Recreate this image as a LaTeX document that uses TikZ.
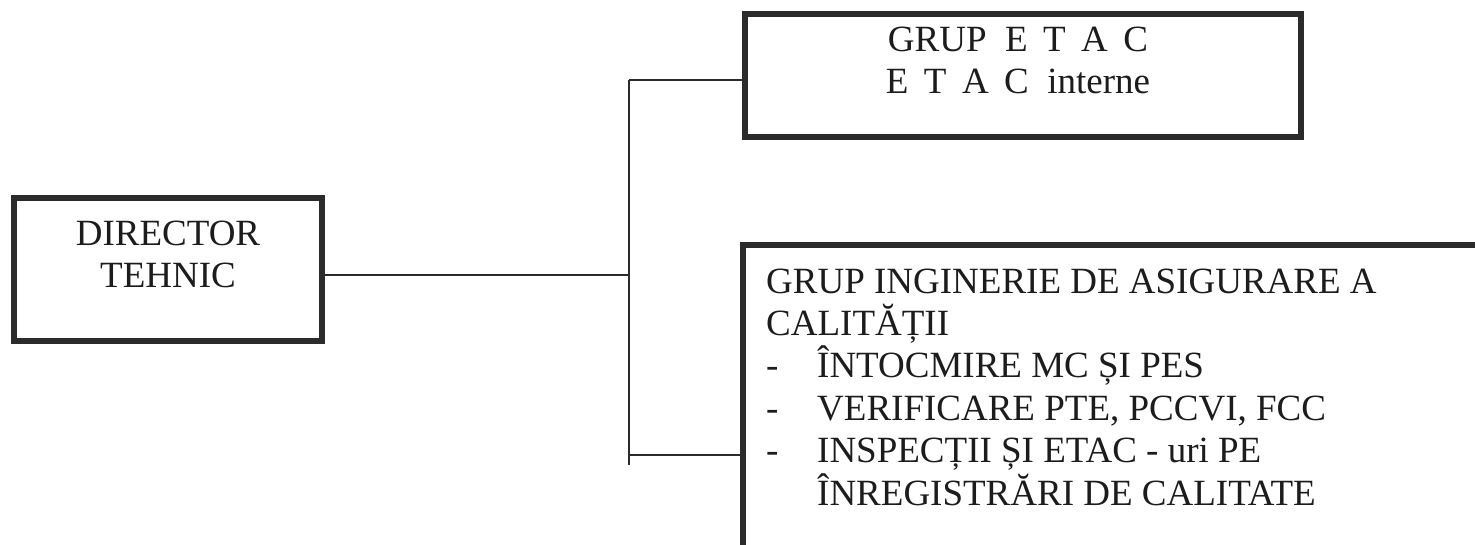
\documentclass[tikz,border=0pt]{standalone}
\usepackage{fontspec}
\setmainfont{Liberation Serif}
\definecolor{ink}{HTML}{2B2B2B}
\definecolor{txtc}{HTML}{1C1C1C}
\begin{document}
\begin{tikzpicture}[x=1pt,y=-1pt,
  box/.style={draw=ink,line width=6pt,inner sep=0pt},
  wire/.style={draw=ink,line width=2.2pt},
  txt/.style={text=txtc,inner sep=0pt,font=\fontsize{37}{42.4}\selectfont}]
\useasboundingbox (0,0) rectangle (1475,545);
\clip (0,0) rectangle (1475,545);
\fill[white] (0,0) rectangle (1475,545);
% boxes
\node[box,minimum width=308pt,minimum height=143pt] (dir) at (168,269.5) {};
\node[box,minimum width=556pt,minimum height=123pt] (top) at (1023,75.5) {};
\node[box,minimum width=800pt,minimum height=400pt] (qa) at (1143,445) {};
% texts (base anchor = baseline of the last line)
\node[txt,align=center,anchor=base,font=\fontsize{37}{43}\selectfont] (dirt) at (168,288) {DIRECTOR\\TEHNIC};
\node[txt,align=center,anchor=base,font=\fontsize{37}{42}\selectfont] (topt) at (1018,94) {GRUP\ \ E\,\ T\,\ A\,\ C\\E\,\ T\,\ A\,\ C\ \ interne};
\node[txt,align=left,anchor=base west] (qat) at (766,505) {GRUP INGINERIE DE ASIGURARE A\\
CALITĂȚII\\
\makebox[51pt][l]{-}ÎNTOCMIRE MC ȘI PES\\
\makebox[51pt][l]{-}VERIFICARE PTE, PCCVI, FCC\\
\makebox[51pt][l]{-}INSPECȚII ȘI ETAC - uri PE\\
\hspace*{51pt}ÎNREGISTRĂRI DE CALITATE};
% connectors
\coordinate (bt) at (629,80);
\coordinate (bb) at (629,465);
\coordinate (bj) at (629,455);
\coordinate (d) at ([yshift=-5.5pt]dir.east);
\draw[wire] (bt) -- (bb);
\draw[wire] (d) -- (d -| bt);
\draw[wire] (bt) -- (bt -| top.west);
\draw[wire] (bj) -- (bj -| qa.west);
\end{tikzpicture}
\end{document}
